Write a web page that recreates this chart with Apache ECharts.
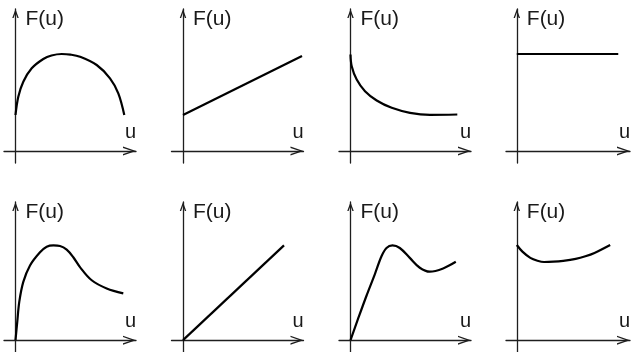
<!DOCTYPE html>
<html>
<head>
<meta charset="utf-8">
<script src="https://cdn.jsdelivr.net/npm/echarts@6/dist/echarts.min.js"></script>
<style>
  html, body { margin: 0; padding: 0; background: #fff; }
  #chart { width: 631px; height: 352px; }
</style>
</head>
<body>
<div id="chart"></div>
<script>
// Eight sketches of F(u); top row first, each row left to right.
const u1 = [0, 0.28, 0.78, 1.62, 2.78, 3.6, 4.62, 5.5, 6.45, 8.12, 9.45, 10.28, 10.88];
const f1 = [3.6, 5.43, 6.93, 8.27, 9.2, 9.55, 9.7, 9.64, 9.43, 8.6, 7.27, 5.77, 3.6];

const u2 = [0, 11.9];
const f2 = [3.6, 9.5];

const u3 = [0, 0.12, 0.62, 1.45, 2.62, 4.12, 5.95, 7.95, 10.68];
const f3 = [9.65, 8.48, 7.15, 5.98, 5.05, 4.32, 3.82, 3.62, 3.65];

const u4 = [0, 10.8];
const f4 = [9.7, 9.7];

const u5 = [0, 0.18, 0.38, 0.78, 1.45, 2.45, 3.12, 3.8, 4.45, 5.12, 5.78, 6.45, 7.62, 9.12, 10.78];
const f5 = [0, 1.9, 3.9, 5.9, 7.57, 8.9, 9.47, 9.6, 9.54, 9.17, 8.4, 7.4, 6.07, 5.24, 4.74];

const u6 = [0, 10.1];
const f6 = [0, 9.6];

const u7 = [0, 0.76, 1.6, 2.43, 3.1, 3.6, 4.2, 4.93, 5.93, 6.93, 7.93, 9.26, 10.53];
const f7 = [0, 2.17, 4.5, 6.67, 8.5, 9.34, 9.6, 9.34, 8.34, 7.34, 6.94, 7.27, 7.94];

const u8 = [0, 0.6, 1.44, 2.2, 2.9, 3.9, 4.94, 6.27, 7.3, 8.27, 9.94];
const f8 = [9.64, 8.97, 8.34, 8.05, 7.92, 7.95, 8.04, 8.24, 8.5, 8.84, 9.64];

const xName = 'u';
const yName = 'F(u)';

const curves = [[u1, f1], [u2, f2], [u3, f3], [u4, f4],
                [u5, f5], [u6, f6], [u7, f7], [u8, f8]];

// Open arrow head (pointing up, rotated by ECharts along the axis)
function chevron(w, h, t) {
  const len = Math.hypot(w / 2, h);
  const d = t * len / h;
  const k = t * len / (w / 2);
  const r = v => +v.toFixed(2);
  return 'path://M' + r(w / 2) + ' 0L' + r(w) + ' ' + r(h) + 'L' + r(w - d) + ' ' + r(h) +
    'L' + r(w / 2) + ' ' + r(k) + 'L' + r(d) + ' ' + r(h) + 'L0 ' + r(h) + 'Z';
}

const AXIS_COLOR = '#1e1e1e';
const TEXT_COLOR = '#1a1a1a';
const FONT = '"Liberation Sans", Arial, sans-serif';

const colLeft = [4, 171.5, 339, 506];
const rowTop = [9, 202];
const rowHeight = [154, 152];
const rowYMax = [14.2, 14.0];

const grids = [], xAxes = [], yAxes = [], series = [];
curves.forEach(([u, f], i) => {
  const row = Math.floor(i / 4), col = i % 4;
  grids.push({ left: colLeft[col], top: rowTop[row], width: 132, height: rowHeight[row] });
  xAxes.push({
    gridIndex: i, type: 'value', min: -1.15, max: 12.05,
    axisLine: {
      onZero: true,
      lineStyle: { color: AXIS_COLOR, width: 1.3 },
      symbol: ['none', chevron(9, 13, 1.3)],
      symbolSize: [9, 13],
      symbolOffset: [0, -6.5]
    },
    axisTick: { show: false }, axisLabel: { show: false }, splitLine: { show: false },
    name: xName, nameLocation: 'end', nameGap: 0,
    nameTextStyle: {
      color: TEXT_COLOR, fontFamily: FONT, fontSize: 20,
      align: 'right', verticalAlign: 'bottom', padding: [0, 0, 9, 0]
    }
  });
  yAxes.push({
    gridIndex: i, type: 'value', min: -1.2, max: rowYMax[row],
    axisLine: {
      onZero: true,
      lineStyle: { color: AXIS_COLOR, width: 1.3 },
      symbol: ['none', chevron(6.5, 9, 1.3)],
      symbolSize: [6.5, 9],
      symbolOffset: [0, -4.5]
    },
    axisTick: { show: false }, axisLabel: { show: false }, splitLine: { show: false },
    name: yName, nameLocation: 'end', nameGap: -10,
    nameTextStyle: {
      color: TEXT_COLOR, fontFamily: FONT, fontSize: 21,
      align: 'left', verticalAlign: 'middle', padding: [0, 0, 0, 10]
    }
  });
  series.push({
    type: 'line', xAxisIndex: i, yAxisIndex: i,
    data: u.map((x, j) => [x, f[j]]),
    showSymbol: false, smooth: 0.35, silent: true,
    lineStyle: { color: '#000', width: 2.2 }
  });
});

const chart = echarts.init(document.getElementById('chart'), null, { renderer: 'canvas' });
chart.setOption({
  backgroundColor: '#fff',
  animation: false,
  grid: grids,
  xAxis: xAxes,
  yAxis: yAxes,
  series: series
});
</script>
</body>
</html>
